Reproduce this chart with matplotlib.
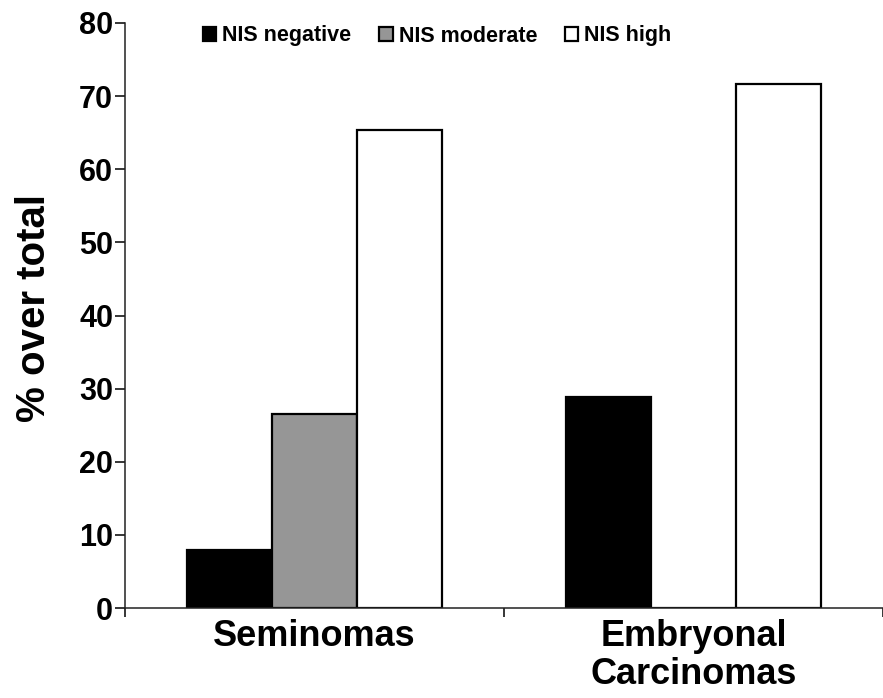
import matplotlib
matplotlib.use("Agg")
import matplotlib.pyplot as plt
import numpy as np

categories = ["Seminomas", "Embryonal\nCarcinomas"]
series = ["NIS negative", "NIS moderate", "NIS high"]
negative = [7.9, 28.8]
moderate = [26.5, 0.0]
high = [65.4, 71.6]
colors = ["#000000", "#969696", "#ffffff"]

plt.rcParams['font.family'] = ['Liberation Sans', 'DejaVu Sans']
plt.rcParams['font.weight'] = 'bold'
plt.rcParams['axes.labelweight'] = 'bold'

fig = plt.figure(figsize=(8.83, 6.98), dpi=100)
ax = fig.add_axes([125/883, 90/698, 758/883, 585/698])

x = np.arange(len(categories)) + 0.5
w = 0.225
for i, (vals, c, lab) in enumerate(zip([negative, moderate, high], colors, series)):
    ax.bar(x + (i - 1) * w, vals, w, color=c, edgecolor="black", linewidth=1.6, label=lab)

ax.set_xlim(0, 758/384)
ax.set_ylim(0, 80)
ax.set_yticks(range(0, 81, 10))
ax.tick_params(axis='y', labelsize=22, length=7, width=1.1, pad=1.5)

# major ticks mark the category borders, minor ticks hold the names
ax.set_xticks([0, 1, 2])
ax.set_xticklabels([])
ax.set_xticks(x, minor=True)
ax.set_xticklabels(categories, minor=True, fontsize=26, linespacing=1.1)
ax.tick_params(axis='x', which='major', length=6.5, width=1.1)
ax.tick_params(axis='x', which='minor', length=0, pad=8)

for s in ['top', 'right']:
    ax.spines[s].set_visible(False)
for s in ['left', 'bottom']:
    ax.spines[s].set_linewidth(1.1)
    ax.spines[s].set_color('#222222')

ax.set_ylabel("% over total", fontsize=29, fontweight='bold')
ax.yaxis.set_label_coords(-0.095, 0.513)

fig.legend(loc='center left', bbox_to_anchor=(192/883, 1 - 36/698), ncol=3,
           frameon=False, borderpad=0, handlelength=0.62, handleheight=0.62,
           handletextpad=0.28, columnspacing=1.3,
           prop={'weight': 'bold', 'size': 15.5})

fig.savefig("out.png", dpi=100)
